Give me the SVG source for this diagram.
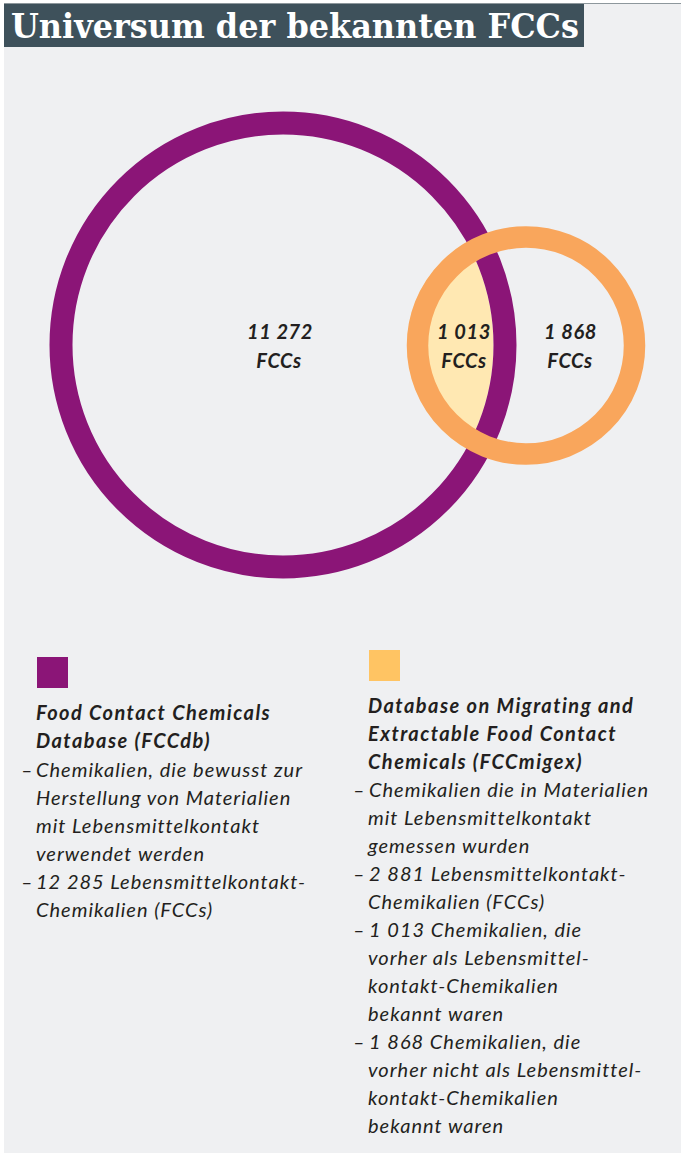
<svg xmlns="http://www.w3.org/2000/svg" width="681" height="1153" viewBox="0 0 681 1153">
  <defs>
    <clipPath id="inPurple">
      <circle cx="283" cy="345" r="210.5"/>
    </clipPath>
    <style>
      .title { font-family: "DejaVu Serif", "Liberation Serif", serif; font-weight: bold; font-size: 33px; fill: #ffffff; }
      .num { font-family: Lato, "Noto Sans", sans-serif; font-style: italic; font-weight: bold; font-size: 20px; fill: #231f20; text-anchor: middle; letter-spacing: 0.6px; }
      .head { font-family: Lato, "Noto Sans", sans-serif; font-style: italic; font-weight: bold; font-size: 20px; fill: #231f20; letter-spacing: 1.45px; }
      .body { font-family: Lato, "Noto Sans", sans-serif; font-style: italic; font-size: 20px; fill: #231f20; letter-spacing: 1px; }
      .ring { fill: none; }
    </style>
  </defs>

  <!-- page background -->
  <rect x="0" y="0" width="681" height="1153" fill="#ffffff"/>
  <rect x="4" y="3" width="677" height="1150" fill="#eff0f2"/>
  <line x1="4" y1="3.5" x2="681" y2="3.5" stroke="#8d979c" stroke-width="1"/>

  <!-- title bar -->
  <g id="title">
    <rect x="4" y="4" width="580" height="43" fill="#3e515b"/>
    <text class="title" x="11" y="38" textLength="568" lengthAdjust="spacingAndGlyphs">Universum der bekannten FCCs</text>
  </g>

  <!-- overlap of both databases -->
  <g id="overlap">
    <circle cx="526" cy="345.5" r="119" fill="#ffe8b2" clip-path="url(#inPurple)"/>
  </g>

  <!-- FCCdb circle -->
  <g id="fccdb">
    <circle class="ring" cx="283" cy="345" r="222" stroke="#8b1577" stroke-width="23"/>
    <text class="num" x="280" y="339">11 272</text>
    <text class="num" x="279" y="367.5">FCCs</text>
  </g>

  <!-- FCCmigex circle -->
  <g id="fccmigex">
    <circle class="ring" cx="526" cy="345.5" r="108.5" stroke="#f9a65c" stroke-width="21.5"/>
    <text class="num" x="570.5" y="339">1 868</text>
    <text class="num" x="570" y="367.5">FCCs</text>
  </g>

  <g id="overlap-label">
    <text class="num" x="464" y="339">1 013</text>
    <text class="num" x="464" y="367.5">FCCs</text>
  </g>

  <!-- legend: FCCdb -->
  <g id="legend-fccdb">
    <rect x="37" y="657" width="31" height="31" fill="#8b1577"/>
    <text class="head" x="36" y="720">Food Contact Chemicals</text>
    <text class="head" x="36" y="748">Database (FCCdb)</text>
    <text class="body" x="21" y="776.5">–</text>
    <text class="body" x="36" y="776.5">Chemikalien, die bewusst zur</text>
    <text class="body" x="36" y="804.5">Herstellung von Materialien</text>
    <text class="body" x="36" y="832.5">mit Lebensmittelkontakt</text>
    <text class="body" x="36" y="860.5">verwendet werden</text>
    <text class="body" x="21" y="888.5">–</text>
    <text class="body" x="36" y="888.5">12 285 Lebensmittelkontakt-</text>
    <text class="body" x="36" y="916.5">Chemikalien (FCCs)</text>
  </g>

  <!-- legend: FCCmigex -->
  <g id="legend-fccmigex">
    <rect x="369" y="650" width="31" height="31" fill="#ffc463"/>
    <text class="head" x="368" y="712.5">Database on Migrating and</text>
    <text class="head" x="368" y="740.5">Extractable Food Contact</text>
    <text class="head" x="368" y="768.5">Chemicals (FCCmigex)</text>
    <text class="body" x="353" y="796.5">–</text>
    <text class="body" x="369" y="796.5">Chemikalien die in Materialien</text>
    <text class="body" x="368" y="824.5">mit Lebensmittelkontakt</text>
    <text class="body" x="368" y="852.5">gemessen wurden</text>
    <text class="body" x="353" y="880.5">–</text>
    <text class="body" x="369" y="880.5">2 881 Lebensmittelkontakt-</text>
    <text class="body" x="368" y="908.5">Chemikalien (FCCs)</text>
    <text class="body" x="353" y="936.5">–</text>
    <text class="body" x="369" y="936.5">1 013 Chemikalien, die</text>
    <text class="body" x="368" y="964.5">vorher als Lebensmittel-</text>
    <text class="body" x="368" y="992.5">kontakt-Chemikalien</text>
    <text class="body" x="368" y="1020.5">bekannt waren</text>
    <text class="body" x="353" y="1048.5">–</text>
    <text class="body" x="369" y="1048.5">1 868 Chemikalien, die</text>
    <text class="body" x="368" y="1076.5">vorher nicht als Lebensmittel-</text>
    <text class="body" x="368" y="1104.5">kontakt-Chemikalien</text>
    <text class="body" x="368" y="1132.5">bekannt waren</text>
  </g>
</svg>
